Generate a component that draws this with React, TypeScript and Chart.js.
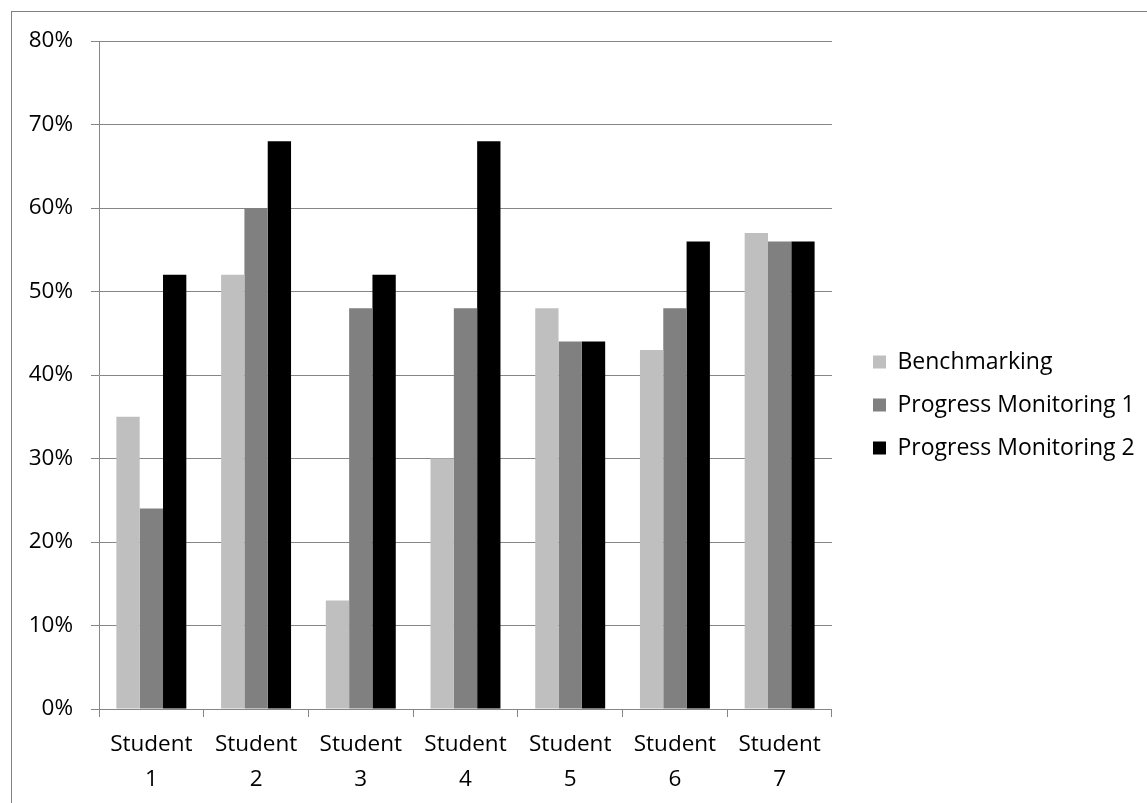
import React, { useEffect, useRef } from "react";
import { Chart, registerables } from "chart.js";

Chart.register(...registerables);

const categories: string[][] = [
  ["Student", "1"],
  ["Student", "2"],
  ["Student", "3"],
  ["Student", "4"],
  ["Student", "5"],
  ["Student", "6"],
  ["Student", "7"],
];
const benchmarking = [35, 52, 13, 30, 48, 43, 57];
const progressMonitoring1 = [24, 60, 48, 48, 44, 48, 56];
const progressMonitoring2 = [52, 68, 52, 68, 44, 56, 56];
const yMin = 0;
const yMax = 80;
const yStep = 10;

const FONT = "'Open Sans', 'Noto Sans', sans-serif";
const GRID = "#868686";
const LEGEND_GAP = 21;

// Moves the legend a little away from the plot area (Excel-like spacing)
const legendOffset = {
  id: "legendOffset",
  afterLayout(chart: any) {
    const l = chart.legend;
    if (!l) return;
    l.left += LEGEND_GAP;
    l.right = chart.width;
    l.width = l.right - l.left;
  },
};

export default function App() {
  const ref = useRef<HTMLCanvasElement | null>(null);

  useEffect(() => {
    if (!ref.current) return;
    const chart = new Chart(ref.current, {
      type: "bar",
      data: {
        labels: categories,
        datasets: [
          { label: "Benchmarking", data: benchmarking, backgroundColor: "#BFBFBF" },
          { label: "Progress Monitoring 1", data: progressMonitoring1, backgroundColor: "#808080" },
          { label: "Progress Monitoring 2", data: progressMonitoring2, backgroundColor: "#000000" },
        ],
      },
      plugins: [legendOffset],
      options: {
        responsive: false,
        animation: false,
        devicePixelRatio: 1,
        layout: { padding: { top: 7, bottom: 0, left: 11, right: 41.34 } },
        datasets: { bar: { categoryPercentage: 0.668, barPercentage: 1 } },
        plugins: {
          tooltip: { enabled: false },
          title: {
            display: true,
            text: " ",
            font: { size: 20, lineHeight: 1 },
            padding: { top: 14, bottom: 0 },
          },
          legend: {
            position: "right",
            labels: {
              boxWidth: 13,
              boxHeight: 13,
              padding: 20,
              color: "#000",
              font: { family: FONT, size: 23 },
            },
          },
        },
        scales: {
          x: {
            offset: true,
            grid: {
              offset: true,
              drawOnChartArea: false,
              drawTicks: true,
              tickLength: 8,
              color: GRID,
            },
            border: { color: GRID, width: 1 },
            ticks: {
              color: "#000",
              padding: 10.5,
              maxRotation: 0,
              autoSkip: false,
              font: { family: FONT, size: 22.5, lineHeight: 35 / 22.5 },
            },
            afterFit: (s: any) => {
              s.height = 94;
            },
          },
          y: {
            min: yMin,
            max: yMax,
            ticks: {
              stepSize: yStep,
              color: "#000",
              padding: 18,
              font: { family: FONT, size: 22.5 },
              callback: (v: any) => v + "%",
            },
            grid: { color: GRID, tickLength: 8, drawTicks: true },
            border: { color: GRID, width: 1 },
            afterFit: (s: any) => {
              s.width = 88;
            },
          },
        },
      } as any,
    });
    return () => chart.destroy();
  }, []);

  return (
    <div style={{ position: "fixed", left: 0, top: 0, width: 1147, height: 803, background: "#fff", overflow: "hidden" }}>
      <div
        style={{
          position: "absolute",
          left: 11,
          top: 11,
          width: 1300,
          height: 1000,
          borderLeft: "1px solid #808080",
          borderTop: "1px solid #808080",
        }}
      />
      <canvas
        ref={ref}
        width={1147}
        height={803}
        style={{ position: "absolute", left: 0, top: 0, width: 1147, height: 803 }}
      />
    </div>
  );
}
